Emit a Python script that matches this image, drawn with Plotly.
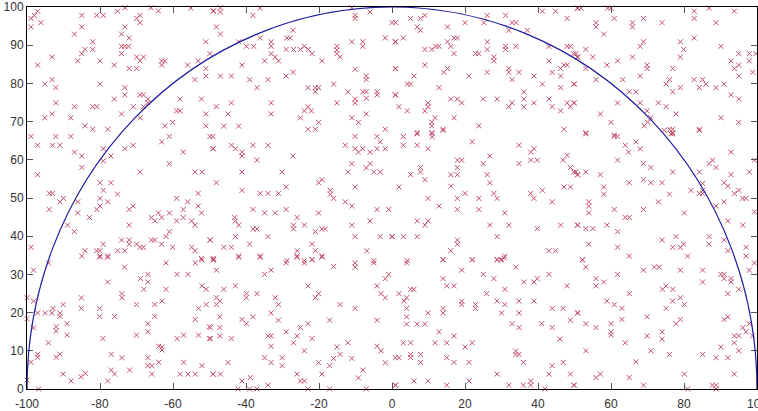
import plotly.graph_objects as go

radius = 100
x_ticks = [-100, -80, -60, -40, -20, 0, 20, 40, 60, 80, 100]
y_ticks = [0, 10, 20, 30, 40, 50, 60, 70, 80, 90, 100]

pts_r1 = [(-98.9,97.0),(-98.0,97.8),(-97.1,98.9),(-98.9,94.8),(-96.2,95.9),(-85.0,97.8),(-80.9,97.8),(-79.1,97.8),(-75.2,98.9),(-73.2,99.8),(-66.0,99.8),(-64.0,99.0),(-55.1,99.7),(-49.0,98.9),(-69.95,97.0),(-69.0,97.8),(-69.0,95.9),(-85.0,94.8),(-87.0,92.9),(-73.2,94.8),(-74.1,92.9),(-72.0,91.9),(-82.0,90.9),(-85.0,87.8),(-84.1,88.9),(-82.0,88.9),(-74.1,89.7),(-73.2,89.7),(-72.2,89.7),(-74.1,87.8),(-93.1,86.9),(-97.1,84.8),(-86.1,85.9),(-80.0,85.9),(-76.1,84.8),(-69.95,86.9),(-68.1,86.9),(-69.0,85.9),(-72.0,83.9),(-69.95,83.9),(-63.1,85.9),(-62.2,85.9),(-63.1,84.8),(-56.0,84.8),(-53.1,85.9),(-49.9,87.8),(-51.0,90.9),(-51.0,83.9),(-51.0,81.9),(-54.0,81.0),(-95.1,79.8),(-93.1,81.0),(-92.1,78.9),(-80.0,79.8),(-73.2,78.9),(-73.2,77.0),(-76.1,75.9),(-69.0,77.0),(-68.1,77.0),(-66.9,75.9),(-66.9,75.0),(-58.1,75.9),(-52.2,75.9),(-92.1,74.9),(-87.0,73.9),(-82.0,73.9),(-80.9,73.9),(-70.9,73.9),(-68.1,73.9),(-59.0,72.8),(-58.1,72.8),(-93.1,72.0),(-95.1,71.0),(-88.0,71.0),(-74.1,72.0),(-69.0,71.0),(-51.0,72.0),(-84.1,68.9),(-82.0,68.0),(-77.9,68.0),(-62.2,68.9),(-60.1,69.8),(-51.0,68.9),
(-48.9,99.0),(-47.0,99.8),(-47.0,98.7),(-36.1,99.7),(-38.1,97.8),(-48.1,94.8),(-47.0,92.9),(-11.0,99.8),(-10.1,97.8),(-10.1,97.0),(-6.0,98.7),(0.0,95.9),(-1.85,91.9),(0.9,90.9),(-11.0,90.9),(-8.0,90.9),(-8.0,89.7),(-27.1,93.9),(-28.8,91.9),(-27.9,91.9),(-36.1,91.9),(-42.0,90.9),(-39.9,89.7),(-37.9,89.7),(-33.1,90.9),(-33.1,89.7),(-29.0,88.9),(-27.0,88.9),(-25.1,88.9),(-24.0,89.7),(-22.9,88.9),(-21.9,87.8),(-33.1,87.8),(-32.0,86.9),(-31.1,85.9),(-34.9,85.9),(-15.1,89.7),(-15.1,88.7),(-15.1,87.8),(-14.2,86.9),(-19.2,85.9),(-41.1,84.8),(-47.0,81.9),(-44.0,81.9),(-39.0,81.0),(-37.0,78.9),(-34.0,81.0),(-29.0,81.9),(-27.1,82.9),(-10.1,83.7),(-7.05,81.9),(-7.05,81.0),(0.9,83.9),(-23.0,78.9),(-21.0,78.9),(-20.1,78.9),(-21.0,77.8),(-16.0,79.8),(-12.1,77.8),(-8.0,77.8),(-7.05,77.8),(-7.05,76.1),(-4.1,77.8),(-4.1,77.0),(0.9,77.0),(-10.1,75.9),(-10.1,74.9),(-15.1,74.9),(-48.1,73.9),(-44.0,74.9),(-44.9,72.0),(-33.1,74.9),(-33.1,72.0),(-23.0,73.9),(-24.0,72.8),(-22.1,72.8),(-25.1,71.0),(-20.1,69.8),(-11.0,71.0),(-9.2,69.8),(-7.05,72.0),(-46.1,68.8),(-42.0,68.8),(-23.0,68.0),(-21.0,68.0),(-1.85,68.0),
(5.1,97.0),(7.8,97.0),(9.0,97.8),(6.9,94.8),(7.8,93.9),(1.0,95.9),(15.2,94.8),(20.0,95.9),(26.1,97.8),(25.2,95.9),(31.1,97.8),(32.9,95.9),(34.0,95.9),(32.0,93.9),(37.1,93.9),(41.2,98.9),(44.8,98.9),(48.0,97.0),(50.8,99.7),(1.0,90.9),(3.1,91.9),(9.0,88.9),(10.9,88.9),(12.0,89.7),(12.9,89.7),(15.2,90.9),(16.1,89.7),(17.0,87.8),(17.0,91.9),(17.9,91.9),(22.9,87.8),(23.8,87.8),(26.1,90.9),(26.1,88.9),(31.1,89.7),(31.1,88.9),(33.9,89.7),(27.9,86.9),(27.9,85.9),(43.0,89.7),(43.0,85.9),(48.0,89.7),(48.9,89.7),(49.8,87.8),(50.8,86.9),(1.0,83.9),(6.0,81.9),(9.0,84.8),(14.2,82.9),(15.2,83.9),(21.1,81.9),(26.1,82.9),(32.0,83.9),(32.0,82.9),(34.8,82.9),(32.9,81.0),(38.9,81.9),(43.9,82.9),(46.2,83.9),(47.1,84.8),(48.0,84.8),(46.2,81.9),(49.8,79.8),(4.2,79.8),(5.1,79.8),(12.9,78.9),(1.0,77.0),(1.9,73.9),(4.2,72.8),(9.0,72.8),(9.9,74.9),(9.9,73.9),(16.1,75.9),(17.9,75.9),(19.1,74.9),(25.0,75.9),(28.8,75.9),(32.0,73.9),(32.9,74.9),(36.1,77.8),(36.1,75.9),(36.1,73.9),(38.9,74.9),(43.0,75.9),(43.9,73.9),(46.2,72.8),(48.0,74.9),(49.8,74.9),(48.9,73.9),(41.2,79.8),(46.2,78.9),(17.0,71.0),(11.8,71.0),(10.9,69.8),(10.9,68.9),(14.0,68.0),(23.8,68.9),(6.9,67.1),(10.9,67.1),(47.1,68.0),
(50.9,99.7),(51.8,99.7),(59.1,99.7),(60.0,99.7),(60.9,97.0),(55.9,95.9),(55.9,94.8),(65.9,95.9),(65.9,94.8),(68.9,97.0),(74.0,95.9),(82.8,98.9),(82.8,97.0),(86.9,99.7),(93.8,98.9),(88.8,95.9),(58.0,92.9),(82.8,91.9),(79.0,90.9),(79.9,88.9),(79.0,86.9),(68.9,90.9),(68.0,89.7),(90.1,89.7),(50.4,87.8),(50.9,86.9),(53.1,88.9),(55.0,86.9),(53.1,83.9),(58.9,84.8),(61.8,85.9),(65.9,86.9),(69.9,84.8),(69.9,83.9),(68.0,81.9),(76.9,83.9),(75.1,79.8),(76.0,81.0),(76.9,77.8),(79.0,78.9),(82.8,81.0),(85.1,81.0),(84.2,78.9),(86.0,79.8),(88.8,78.9),(91.0,79.8),(92.9,85.9),(95.0,87.8),(95.0,84.8),(93.8,83.9),(95.0,81.9),(97.9,87.8),(97.9,85.9),(98.8,82.9),(99.7,87.8),(55.9,81.0),(63.2,81.0),(65.0,77.8),(66.8,77.8),(49.95,79.8),(49.95,74.9),(61.8,74.9),(68.0,74.9),(69.9,72.8),(73.0,74.9),(75.1,73.9),(77.8,72.0),(57.1,72.0),(60.0,69.8),(70.9,71.0),(69.1,68.9),(70.0,69.8),(76.0,68.0),(76.9,68.0),(76.9,67.1),(84.2,68.0),(90.1,71.0),(95.0,69.8),(92.9,77.0),(95.0,75.9),(53.1,67.1),(60.9,66.5)]

pts_r2 = [(-98.9,66.1),(-97.1,63.8),(-92.1,66.1),(-93.0,63.8),(-91.0,63.8),(-88.0,66.1),(-87.0,62.0),(-85.0,61.0),(-85.0,58.0),(-79.1,62.9),(-77.0,61.0),(-79.1,59.7),(-73.2,62.9),(-70.9,63.8),(-63.1,64.7),(-61.0,66.1),(-57.2,62.0),(-49.9,66.1),(-49.0,62.9),(-61.0,59.0),(-69.0,56.8),(-54.0,56.8),(-52.0,56.8),(-97.1,56.1),(-80.0,54.0),(-77.0,54.0),(-79.1,52.0),(-75.2,51.0),(-93.9,51.2),(-93.0,51.2),(-91.0,49.0),(-90.05,49.9),(-86.1,49.0),(-80.0,49.9),(-77.9,49.0),(-80.0,47.9),(-80.9,47.0),(-72.0,47.0),(-70.9,47.9),(-93.9,47.0),(-86.1,46.1),(-82.9,44.9),(-53.1,51.2),(-59.0,49.9),(-56.0,49.0),(-53.1,47.9),(-57.2,47.0),(-65.9,44.9),(-65.0,44.0),(-64.0,46.1),(-63.1,44.9),(-61.0,46.1),(-59.0,44.0),(-57.2,44.9),(-54.9,44.0),(-54.0,42.9),(-52.2,46.1),(-88.9,42.9),(-87.0,41.2),(-72.0,42.9),(-61.0,41.2),(-61.9,39.9),(-74.1,39.0),(-72.0,39.0),(-65.9,39.0),(-65.0,39.0),(-72.0,37.9),(-69.95,37.9),(-69.0,37.1),(-68.1,37.1),(-63.1,37.9),(-60.1,37.1),(-54.9,37.1),(-54.0,36.2),(-49.9,39.0),(-98.9,37.1),(-79.1,37.9),(-84.1,36.2),(-85.0,34.8),(-80.9,36.2),(-80.0,36.2),(-80.0,34.8),(-77.9,34.8),(-75.2,36.2),(-73.2,36.2),(-52.2,34.2),(-49.0,34.2),
(-49.05,66.1),(-49.05,62.9),(-44.0,63.8),(-42.9,62.9),(-41.1,62.0),(-41.1,61.0),(-38.1,63.8),(-34.0,63.8),(-37.0,59.9),(-27.1,61.0),(-41.1,56.8),(-30.1,56.8),(-48.1,54.0),(-41.1,52.0),(-36.1,51.2),(-34.0,51.2),(-31.1,51.2),(-29.0,52.9),(-20.1,54.0),(-19.2,54.8),(-16.9,52.0),(-16.9,51.0),(-16.0,49.9),(-12.8,49.0),(-11.0,47.9),(-10.1,66.1),(-4.1,66.1),(-3.2,64.7),(-12.8,63.8),(-10.1,62.9),(-9.2,62.0),(-8.0,62.9),(-6.0,62.0),(-4.1,62.9),(-1.85,62.9),(-11.0,59.0),(-12.1,56.8),(-7.05,57.9),(-6.0,59.0),(-5.0,56.8),(-3.2,56.8),(-10.1,52.9),(-38.1,47.0),(-34.9,46.1),(-32.0,46.1),(-29.0,47.0),(-20.1,46.1),(-26.0,44.9),(-43.1,44.9),(-42.9,44.0),(-42.0,42.9),(-38.1,41.9),(-37.0,41.9),(-27.0,42.9),(-27.0,41.9),(-24.0,42.9),(-21.0,41.2),(-19.2,41.9),(-18.3,41.9),(-11.0,42.9),(-6.0,44.0),(-4.1,47.0),(-0.9,47.0),(-42.9,39.9),(-34.0,39.9),(-46.1,37.1),(-44.0,37.1),(-39.0,37.9),(-21.9,37.9),(-21.0,36.2),(-26.0,36.2),(-26.0,34.8),(-42.0,34.8),(-36.1,34.8),(-19.2,34.8),(-6.9,36.2),(-10.1,39.9),(-3.2,39.9),(0.0,39.9),(-49.78,39.0),(-48.9,33.9),(-28.8,33.6),(-24.0,33.6),(-21.9,33.9),(-5.0,33.6),
(3.1,66.1),(3.1,63.8),(6.9,66.8),(6.9,63.8),(9.9,62.9),(11.0,66.8),(11.0,66.0),(14.0,67.7),(22.0,64.7),(34.8,63.8),(38.0,62.0),(38.9,62.9),(38.0,59.9),(39.8,59.9),(34.8,59.0),(46.9,59.9),(48.0,61.2),(48.9,58.0),(49.8,56.8),(50.8,56.1),(26.8,61.0),(17.9,59.9),(19.1,59.9),(17.9,58.0),(25.0,59.0),(7.8,58.0),(7.8,56.8),(5.1,56.1),(9.0,54.8),(16.1,56.1),(17.9,56.1),(26.1,56.1),(26.8,54.0),(16.1,53.1),(1.9,52.9),(47.1,52.9),(48.9,52.9),(20.0,51.2),(17.9,49.9),(23.8,49.9),(27.9,51.2),(28.8,49.9),(38.0,51.2),(38.9,49.9),(41.2,52.0),(43.9,49.0),(9.9,49.9),(12.9,47.9),(17.9,47.0),(23.8,47.0),(30.9,46.1),(6.9,44.0),(9.0,42.9),(9.9,44.0),(26.8,42.9),(32.0,42.9),(39.8,42.0),(46.2,42.9),(50.8,42.9),(0.08,39.9),(3.1,39.9),(6.9,39.9),(17.9,39.0),(17.9,37.9),(28.8,39.9),(16.1,36.2),(43.0,36.2),(44.8,36.2),(4.2,33.6),(14.0,33.9),(22.0,33.9),(28.8,33.9),(30.0,33.9),(30.9,34.8),
(53.1,66.8),(60.9,66.1),(61.8,66.1),(63.9,63.8),(64.8,62.0),(66.8,64.7),(68.0,62.9),(61.8,59.9),(68.9,59.0),(70.9,58.0),(76.9,56.8),(74.6,67.7),(76.4,66.8),(76.9,66.8),(84.2,67.7),(92.9,62.0),(86.9,59.0),(87.8,59.9),(88.8,58.0),(92.9,56.1),(97.9,56.8),(84.2,56.8),(85.1,53.8),(81.9,52.0),(84.2,51.2),(85.1,51.2),(85.1,52.0),(91.0,54.0),(92.0,53.1),(93.8,51.2),(95.0,52.0),(96.1,49.9),(97.0,49.9),(99.3,59.9),(50.4,56.8),(50.9,56.1),(53.1,56.8),(57.1,56.1),(58.0,52.9),(58.0,51.0),(65.0,54.0),(68.9,54.8),(70.9,54.0),(74.0,54.0),(76.0,51.0),(73.0,49.0),(53.9,49.0),(53.9,47.9),(53.9,46.1),(60.9,47.0),(63.9,44.9),(65.0,44.9),(68.9,47.0),(80.1,46.1),(88.8,47.9),(91.0,49.0),(50.9,42.9),(53.1,42.0),(55.0,42.0),(58.9,42.9),(61.8,41.2),(92.0,44.0),(96.1,42.9),(99.3,46.4),(53.9,37.9),(61.8,37.1),(65.0,34.8),(74.0,39.0),(77.8,39.9),(76.9,37.1),(79.0,37.1),(79.9,37.9),(81.0,34.8),(86.9,39.9),(86.9,37.9),(91.0,39.0),(92.0,36.2),(97.0,37.1),(97.0,34.8),(52.2,33.9)]

pts_r3 = [(-98.2,31.1),(-94.1,33.0),(-100.0,23.9),(-98.2,22.97),(-97.1,19.9),(-95.0,19.9),(-93.2,19.9),(-92.9,21.1),(-91.0,19.9),(-91.0,19.0),(-90.1,22.1),(-100.0,18.4),(-98.2,16.0),(-92.0,16.3),(-92.0,15.2),(-89.0,17.1),(-89.0,14.1),(-94.1,12.1),(-98.9,7.0),(-97.1,9.1),(-97.1,8.3),(-92.0,8.3),(-91.0,9.1),(-90.1,3.9),(-87.9,2.1),(-85.2,3.2),(-84.0,4.1),(-85.1,23.9),(-85.1,21.1),(-80.1,21.1),(-80.1,19.0),(-76.0,19.0),(-79.2,13.2),(-77.9,28.0),(-77.9,34.5),(-80.1,34.5),(-73.3,31.9),(-74.0,24.97),(-74.0,23.9),(-70.0,22.1),(-70.0,14.1),(-68.9,28.9),(-66.9,30.0),(-66.9,28.0),(-68.0,26.1),(-65.0,22.1),(-65.0,19.0),(-63.0,23.0),(-66.9,17.1),(-66.9,15.0),(-63.9,11.2),(-63.0,11.0),(-63.0,10.2),(-61.9,26.1),(-61.9,33.0),(-58.9,30.0),(-55.9,30.0),(-58.9,13.2),(-57.1,14.1),(-53.9,33.0),(-52.1,33.8),(-49.0,33.8),(-52.1,27.0),(-50.9,26.1),(-53.0,21.1),(-50.9,22.1),(-53.9,18.2),(-50.0,16.3),(-53.0,14.1),(-50.0,13.2),(-76.9,9.1),(-74.0,8.2),(-66.9,8.2),(-66.9,6.1),(-65.8,6.1),(-63.9,7.0),(-71.9,4.96),(-76.9,4.96),(-76.0,3.9),(-77.9,2.1),(-65.8,3.9),(-57.1,7.0),(-58.0,3.9),(-55.9,3.9),(-53.9,3.9),(-49.0,3.9),(-52.1,6.1),(-96.8,0.0),(-100.0,2.3),
(-48.9,33.8),(-48.1,31.1),(-42.0,34.5),(-36.1,34.5),(-29.0,33.0),(-26.0,34.5),(-24.0,33.0),(-21.9,33.8),(-19.2,34.5),(-16.0,32.1),(-10.1,33.0),(-10.1,31.9),(-5.0,33.0),(-34.9,30.0),(-33.1,31.1),(-46.1,26.1),(-42.9,27.0),(-48.1,23.9),(-48.1,22.1),(-47.2,23.0),(-39.9,24.97),(-39.9,23.9),(-37.0,24.97),(-32.0,23.9),(-31.1,22.1),(-23.0,27.0),(-21.0,23.9),(-20.1,24.97),(-14.2,22.1),(-10.1,21.1),(-4.1,27.0),(-3.0,24.97),(-1.85,23.9),(-1.85,28.9),(-0.9,30.0),(-4.1,18.0),(-33.1,19.9),(-31.1,18.0),(-38.1,18.9),(-41.1,18.2),(-39.9,17.1),(-47.2,18.9),(-47.2,16.1),(-47.2,13.9),(-49.78,16.1),(-49.78,13.2),(-44.0,13.2),(-34.0,13.9),(-33.1,13.9),(-33.1,11.2),(-29.0,14.97),(-27.0,12.1),(-26.0,13.9),(-25.1,16.1),(-23.0,17.1),(-21.9,13.2),(-17.1,18.0),(-24.0,10.0),(-15.1,11.0),(-12.1,12.1),(-4.1,11.2),(-3.0,10.0),(-14.2,9.05),(-16.0,8.0),(-11.0,8.0),(-34.9,8.2),(-33.1,6.9),(-30.1,8.2),(-30.1,6.1),(-44.9,6.9),(-20.1,6.9),(-17.1,6.1),(-1.85,6.9),(0.9,8.2),(-49.05,3.9),(-47.0,3.9),(-26.0,3.9),(-25.1,2.1),(-24.0,2.1),(-19.2,3.9),(-9.2,2.9),(-8.0,4.96),(-41.1,2.1),(-38.8,3.0),(-34.0,1.0),(-42.2,0.0),(-39.0,0.0),(-37.0,0.0),(-23.0,0.0),(-17.1,0.0),(-7.05,0.0),(0.9,1.0),
(4.0,33.0),(14.0,33.8),(22.0,33.8),(28.8,33.8),(29.8,33.8),(30.7,34.3),(33.9,31.9),(19.1,31.1),(25.0,30.0),(27.9,28.9),(14.0,28.9),(15.0,27.0),(17.0,27.0),(5.1,26.1),(6.0,26.1),(1.9,24.97),(3.3,23.0),(4.0,23.9),(4.0,21.1),(4.0,18.9),(4.0,16.97),(6.9,16.97),(9.0,16.97),(9.9,19.9),(14.0,21.1),(14.0,19.9),(19.1,23.0),(19.1,22.1),(22.9,22.1),(22.9,21.1),(25.9,24.97),(28.8,23.0),(30.9,22.1),(30.9,26.1),(34.8,23.0),(34.8,19.9),(30.0,19.9),(32.9,17.1),(34.8,16.1),(36.1,28.0),(38.9,28.0),(39.8,28.9),(43.0,30.0),(38.9,23.0),(43.9,21.1),(46.9,21.1),(48.0,27.0),(50.8,19.9),(48.9,18.0),(41.0,17.1),(43.9,16.1),(46.0,13.05),(12.9,14.97),(17.0,13.9),(11.8,12.1),(15.0,12.1),(20.0,11.0),(22.0,12.1),(3.1,12.1),(5.1,12.1),(1.9,8.2),(5.1,9.05),(5.1,8.2),(7.8,9.05),(7.8,6.96),(15.0,8.2),(17.0,6.96),(21.1,6.96),(33.9,9.9),(33.9,9.05),(34.8,9.05),(36.0,6.96),(43.9,6.1),(46.9,6.96),(43.0,3.9),(48.9,3.9),(28.8,3.9),(1.0,1.0),(6.0,2.1),(9.9,2.1),(15.0,1.0),(21.1,2.1),(32.0,1.0),(36.0,1.0),(38.0,2.1),(38.0,1.0),(41.9,0.0),(49.8,1.0),
(52.2,33.8),(53.1,31.9),(55.9,28.9),(55.9,27.0),(58.0,28.0),(61.8,30.0),(68.9,31.1),(71.9,31.9),(73.2,31.9),(79.0,31.1),(85.1,31.1),(85.1,28.0),(90.1,30.0),(91.0,30.0),(91.0,28.9),(92.9,28.9),(92.9,28.0),(97.9,31.1),(99.3,33.0),(65.0,24.97),(58.9,23.0),(60.9,22.1),(63.0,21.1),(63.0,18.2),(50.9,19.9),(53.1,17.1),(55.9,16.1),(60.0,17.1),(60.0,14.97),(60.0,14.1),(63.9,12.1),(69.9,18.9),(69.9,13.9),(74.0,14.97),(74.0,13.05),(74.1,26.1),(75.1,27.0),(76.9,26.1),(76.9,23.0),(79.0,23.9),(80.1,22.1),(75.1,21.1),(77.8,17.1),(79.0,18.2),(91.0,18.2),(92.0,18.9),(92.0,24.97),(95.0,26.1),(96.1,16.1),(97.0,14.97),(93.8,13.9),(95.0,13.9),(97.9,17.1),(98.8,13.9),(93.8,12.1),(95.0,10.0),(90.1,11.0),(53.1,10.0),(70.9,10.0),(76.0,9.05),(85.1,9.05),(88.8,8.2),(92.0,8.2),(66.8,7.1),(55.9,3.0),(57.1,3.9),(65.0,3.0),(68.9,1.0),(80.1,3.9),(87.8,1.0),(88.8,1.0),(88.8,0.0),(81.0,0.0),(93.8,3.9),(49.95,1.0)]

all_pts = pts_r1 + pts_r2 + pts_r3
px = [p[0] for p in all_pts]
py = [p[1] for p in all_pts]

fig = go.Figure()
fig.add_trace(go.Scatter(
    x=px, y=py, mode="markers",
    marker=dict(symbol="x-thin", size=5, color="#c4506a",
                line=dict(width=1, color="#c4506a")),
    cliponaxis=False, showlegend=False, hoverinfo="skip"))

fig.add_shape(type="circle", xref="x", yref="y",
              x0=-radius, y0=-radius, x1=radius, y1=radius,
              line=dict(color="#1c1ca0", width=1.2), layer="above")

axis_common = dict(showgrid=False, zeroline=False, showline=True, linecolor="black",
                   linewidth=1, mirror="allticks", ticks="inside", ticklen=6,
                   tickcolor="#555555", tickwidth=1, ticklabeloverflow="allow",
                   automargin=False,
                   tickfont=dict(family="Liberation Sans, Arial", size=12, color="#333333"))

fig.update_xaxes(range=[-100, 100], tickvals=x_ticks, ticktext=[str(v) for v in x_ticks],
                 ticklabelstandoff=4, **axis_common)
fig.update_yaxes(range=[0, 100], tickvals=y_ticks, ticktext=[str(v) for v in y_ticks], **axis_common)

fig.update_layout(width=758, height=411, margin=dict(l=27, r=1, t=7, b=22),
                  paper_bgcolor="white", plot_bgcolor="white")

fig.write_html("out.html")
